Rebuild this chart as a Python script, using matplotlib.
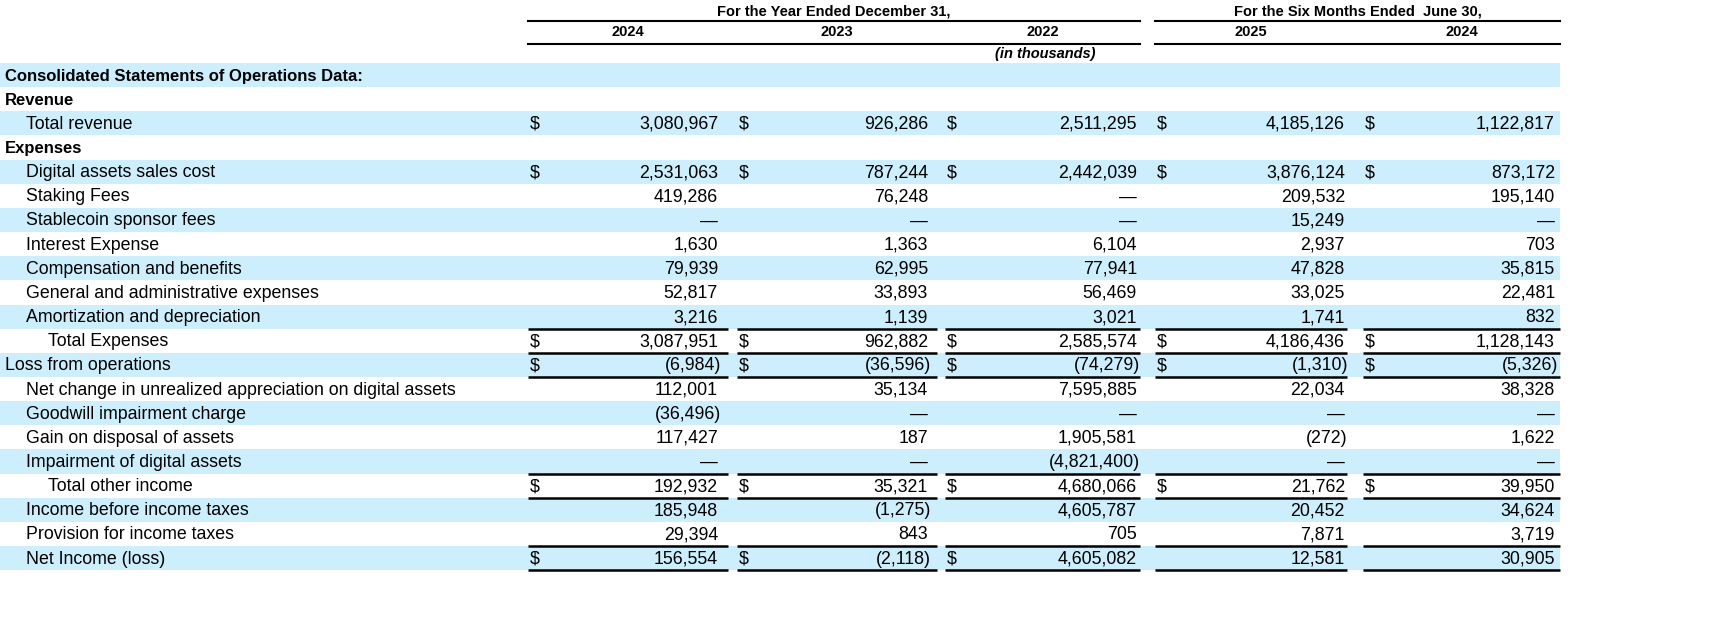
import matplotlib.pyplot as plt

plt.rcParams['font.family'] = ['Liberation Sans', 'DejaVu Sans']

# Row labels with indent level (0 = bold header, 1 = item, 2 = subtotal, -1 = plain flush)
labels = ['Consolidated Statements of Operations Data:', 'Revenue', 'Total revenue', 'Expenses',
          'Digital assets sales cost', 'Staking Fees', 'Stablecoin sponsor fees', 'Interest Expense',
          'Compensation and benefits', 'General and administrative expenses',
          'Amortization and depreciation', 'Total Expenses', 'Loss from operations',
          'Net change in unrealized appreciation on digital assets', 'Goodwill impairment charge',
          'Gain on disposal of assets', 'Impairment of digital assets', 'Total other income',
          'Income before income taxes', 'Provision for income taxes', 'Net Income (loss)']
levels = [0, 0, 1, 0, 1, 1, 1, 1, 1, 1, 1, 2, -1, 1, 1, 1, 1, 2, 1, 1, 1]

col_years = ['2024', '2023', '2022', '2025', '2024']
fy2024 = ['', '', '3,080,967', '', '2,531,063', '419,286', '—', '1,630', '79,939', '52,817', '3,216',
          '3,087,951', '(6,984)', '112,001', '(36,496)', '117,427', '—', '192,932', '185,948', '29,394', '156,554']
fy2023 = ['', '', '926,286', '', '787,244', '76,248', '—', '1,363', '62,995', '33,893', '1,139',
          '962,882', '(36,596)', '35,134', '—', '187', '—', '35,321', '(1,275)', '843', '(2,118)']
fy2022 = ['', '', '2,511,295', '', '2,442,039', '—', '—', '6,104', '77,941', '56,469', '3,021',
          '2,585,574', '(74,279)', '7,595,885', '—', '1,905,581', '(4,821,400)', '4,680,066', '4,605,787', '705', '4,605,082']
h2025 = ['', '', '4,185,126', '', '3,876,124', '209,532', '15,249', '2,937', '47,828', '33,025', '1,741',
         '4,186,436', '(1,310)', '22,034', '—', '(272)', '—', '21,762', '20,452', '7,871', '12,581']
h2024 = ['', '', '1,122,817', '', '873,172', '195,140', '—', '703', '35,815', '22,481', '832',
         '1,128,143', '(5,326)', '38,328', '—', '1,622', '—', '39,950', '34,624', '3,719', '30,905']
columns = [fy2024, fy2023, fy2022, h2025, h2024]

dollar_rows = {2: 5, 4: 5, 11: 5, 12: 5, 17: 5, 20: 3}  # row -> number of columns with $
line_above = [11, 12, 13, 17, 18, 20, 21]

# layout (pixels)
W, H = 1731, 637
top0, rh = 63, 24.15
col_left = [528, 737, 945, 1155, 1363]
col_right = [728, 937, 1140, 1347, 1560]
num_right = [718, 928, 1137, 1345, 1555]
shade = '#cdeefd'
fs = 12.8

fig = plt.figure(figsize=(W / 100, H / 100), dpi=100)
ax = fig.add_axes([0, 0, 1, 1])
ax.set_xlim(0, W)
ax.set_ylim(H, 0)
ax.axis('off')

for i, lab in enumerate(labels):
    y0 = top0 + i * rh
    yc = y0 + rh / 2 + 1
    if i % 2 == 0:
        ax.add_patch(plt.Rectangle((0, y0), 1560, rh, color=shade, lw=0))
    indent = {0: 5, -1: 5, 1: 26, 2: 48}[levels[i]]
    bold = levels[i] == 0
    ax.text(indent, yc, lab, fontsize=12 if bold else fs, va='center', ha='left',
            fontweight='bold' if bold else 'normal')
    for c, vals in enumerate(columns):
        if vals[i]:
            ax.text(num_right[c] + (3 if vals[i].endswith(')') else 0), yc, vals[i],
                    fontsize=fs, va='center', ha='right')
        if i in dollar_rows and c < dollar_rows[i]:
            ax.text(col_left[c] + 2, yc, '$', fontsize=fs, va='center', ha='left')

for r in line_above:
    y = top0 + r * rh
    for c in range(5):
        ax.plot([col_left[c], col_right[c]], [y, y], color='black', lw=1.8, solid_capstyle='butt')

# headers
hs = 10.5
ax.text((528 + 1140) / 2, 12, 'For the Year Ended December 31,', fontsize=hs, fontweight='bold', ha='center', va='center')
ax.text((1155 + 1560) / 2, 12, 'For the Six Months Ended  June 30,', fontsize=hs, fontweight='bold', ha='center', va='center')
ax.plot([528, 1140], [21, 21], color='black', lw=1.5)
ax.plot([1155, 1560], [21, 21], color='black', lw=1.5)
for c, yr in enumerate(col_years):
    ax.text((col_left[c] + col_right[c]) / 2, 32, yr, fontsize=hs, fontweight='bold', ha='center', va='center')
ax.plot([528, 1140], [44, 44], color='black', lw=1.5)
ax.plot([1155, 1560], [44, 44], color='black', lw=1.5)
ax.text(1045, 54, '(in thousands)', fontsize=hs, fontweight='bold', style='italic', ha='center', va='center')

fig.savefig('out.png', dpi=100)
